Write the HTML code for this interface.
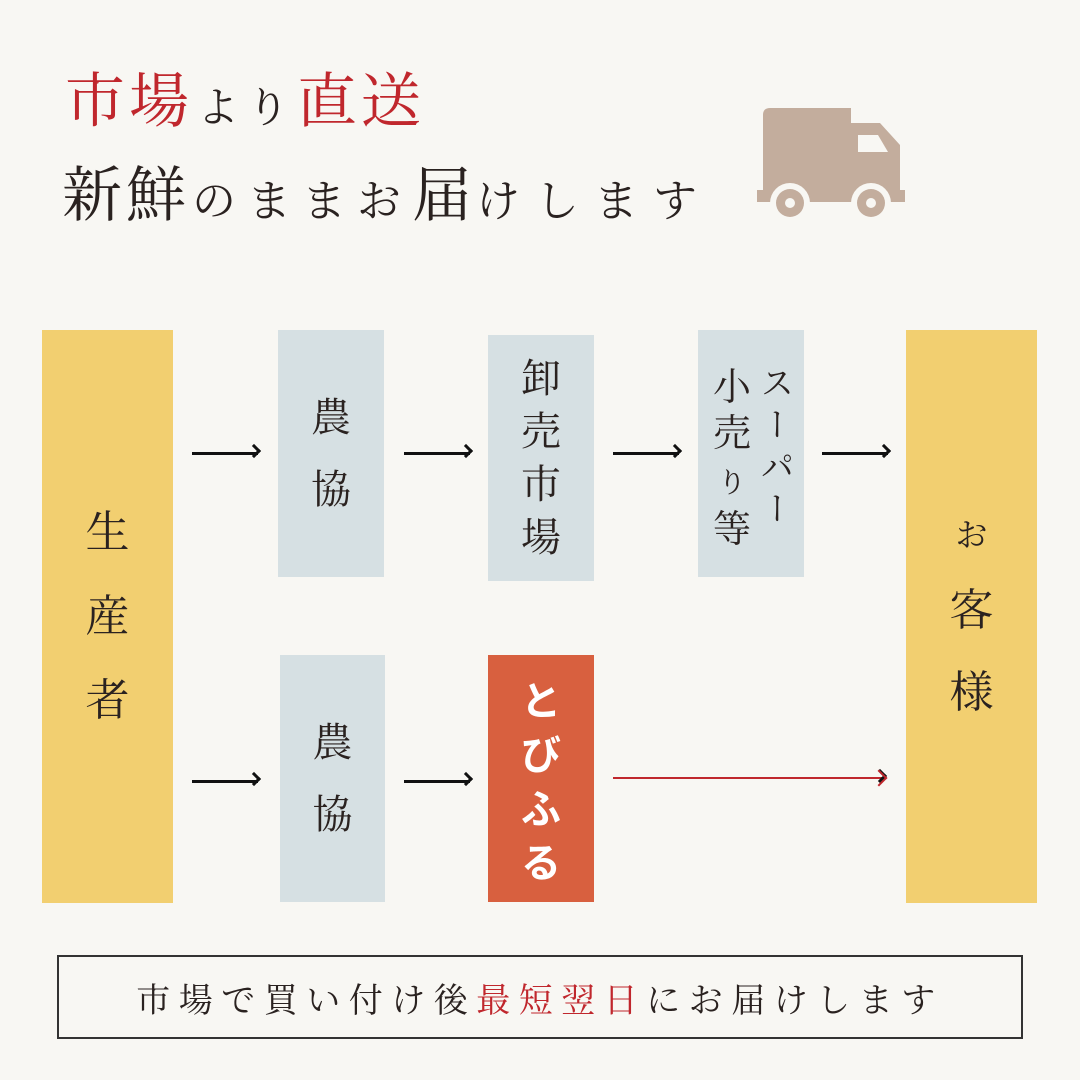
<!DOCTYPE html>
<html><head><meta charset="utf-8"><style>
body{margin:0;width:1080px;height:1080px;background:#f8f7f3;position:relative;overflow:hidden;font-family:"Liberation Serif","Noto Serif CJK JP","Noto Serif CJK SC",serif;color:#2a2220}
.a{position:absolute}
.box{position:absolute;display:flex;flex-direction:column;align-items:center;justify-content:center}
.y{background:#f2cf70}.b{background:#d6e0e3}
.arr{position:absolute;height:3px;background:#111}
.arr:after{content:"";position:absolute;right:-1px;top:-6px;width:10px;height:10px;border-top:3px solid #111;border-right:3px solid #111;transform:rotate(45deg);transform-origin:center;box-sizing:border-box}
.r{color:#c0272d}
</style></head><body>
<div class="a" style="left:65px;top:66px;font-size:60px;line-height:72px;white-space:nowrap;letter-spacing:4px"><span class="r">市場</span><span style="font-size:42px;letter-spacing:8px;margin-left:4px">より</span><span class="r">直送</span></div>
<div class="a" style="left:62px;top:160px;font-size:60px;line-height:72px;white-space:nowrap;letter-spacing:4px">新鮮<span style="font-size:44px;letter-spacing:11px;margin-left:2px">のままお</span>届<span style="font-size:44px;letter-spacing:15px">けします</span></div>
<svg class="a" style="left:740px;top:90px" width="180" height="140">
<path d="M30 18 Q23 18 23 25 V100 H17 V112 H165 V100 H160 V55 L140 33 H111 V18 Z" fill="#c3ad9d"/>
<path d="M118 45 H138 L148 62 H118 Z" fill="#f8f7f3"/>
<circle cx="50" cy="113" r="20" fill="#f8f7f3"/><circle cx="50" cy="113" r="14" fill="#c3ad9d"/><circle cx="50" cy="113" r="5" fill="#f8f7f3"/>
<circle cx="131" cy="113" r="20" fill="#f8f7f3"/><circle cx="131" cy="113" r="14" fill="#c3ad9d"/><circle cx="131" cy="113" r="5" fill="#f8f7f3"/>
</svg>

<div class="box y" style="left:42px;top:330px;width:131px;height:573px;font-size:44px;line-height:84px">生<br>産<br>者</div>
<div class="box b" style="left:278px;top:330px;width:106px;height:247px;font-size:40px;line-height:72px">農<br>協</div>
<div class="box b" style="left:488px;top:335px;width:106px;height:246px;font-size:40px;line-height:53px">卸<br>売<br>市<br>場</div>
<div class="box b" style="left:698px;top:330px;width:106px;height:247px;flex-direction:row;align-items:center">
 <div style="font-size:38px;line-height:46px;text-align:center;width:44px;margin-top:10px">小<br>売<br><span style="font-size:28px">り</span><br>等</div>
 <div style="font-size:34px;line-height:38px;writing-mode:vertical-rl;letter-spacing:8px;margin-top:-10px">スーパー</div>
</div>
<div class="box y" style="left:906px;top:330px;width:131px;height:573px;font-size:44px;line-height:82px"><span style="font-size:32px;line-height:70px">お</span>客<br>様</div>
<div class="box b" style="left:280px;top:655px;width:105px;height:247px;font-size:40px;line-height:72px">農<br>協</div>
<div class="box" style="left:488px;top:655px;width:106px;height:247px;background:#d8603f;color:#fff;font-family:'Noto Sans CJK JP',sans-serif;font-weight:bold;font-size:40px;line-height:54px">と<br>び<br>ふ<br>る</div>

<div class="arr" style="left:192px;top:452px;width:66px"></div>
<div class="arr" style="left:404px;top:452px;width:66px"></div>
<div class="arr" style="left:613px;top:452px;width:66px"></div>
<div class="arr" style="left:822px;top:452px;width:66px"></div>
<div class="arr" style="left:192px;top:780px;width:66px"></div>
<div class="arr" style="left:404px;top:780px;width:66px"></div>
<div class="arr" style="left:613px;top:777px;width:271px;background:#c0272d;height:2px"></div>
<div class="a" style="left:873px;top:772px;width:10px;height:10px;border-top:2px solid #c0272d;border-right:2px solid #c0272d;transform:rotate(45deg)"></div>

<div class="a" style="left:57px;top:955px;width:962px;height:80px;border:2px solid #333;display:flex;align-items:center;justify-content:center;font-size:34px;letter-spacing:8.5px;white-space:nowrap">市場で買い付け後<span class="r">最短翌日</span>にお届けします</div>
</body></html>
